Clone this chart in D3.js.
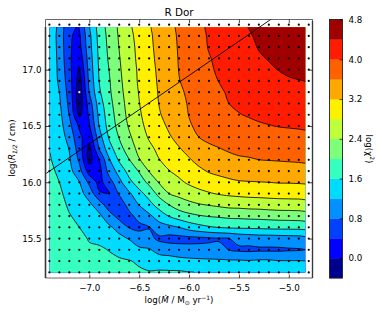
<!DOCTYPE html>
<html><head><meta charset="utf-8">
<script src="https://cdn.jsdelivr.net/npm/d3@7"></script>
<style>html,body{margin:0;padding:0;background:#fff}svg{display:block}text{font-family:"DejaVu Sans",sans-serif;fill:#000}</style>
</head><body><svg id="c" width="382" height="313"></svg>
<script>
const title = "R Dor";
const logMdot = [-7.4,-7.3,-7.2,-7.1,-7.0,-6.9,-6.8,-6.7,-6.6,-6.5,-6.4,-6.3,-6.2,-6.1,-6.0,-5.9,-5.8,-5.7,-5.6,-5.5,-5.4,-5.3,-5.2,-5.1,-5.0,-4.9,-4.8];
const logR = [17.4,17.3,17.2,17.1,17.0,16.9,16.8,16.7,16.6,16.5,16.4,16.3,16.2,16.1,16.0,15.9,15.8,15.7,15.6,15.5,15.4,15.3,15.2];
// log(chi^2), one list per logMdot value, top (17.4) to bottom (15.2)
const chi2Columns = [
[1.50,1.50,1.50,1.50,1.50,1.50,1.50,1.51,1.52,1.53,1.56,1.59,1.62,1.65,1.68,1.71,1.74,1.77,1.80,1.83,1.86,1.89,1.92],
[1.04,1.05,1.07,1.09,1.11,1.13,1.20,1.26,1.32,1.36,1.42,1.47,1.52,1.56,1.60,1.66,1.71,1.75,1.79,1.82,1.85,1.88,1.90],
[.44,.43,.44,.46,.52,.58,.64,.70,.78,.92,1.05,1.18,1.25,1.32,1.40,1.48,1.55,1.62,1.70,1.76,1.81,1.85,1.88],
[.38,.33,.27,.12,-.06,-.20,-.30,-.25,-.10,.34,.50,.60,.73,.95,1.22,1.31,1.41,1.52,1.60,1.67,1.73,1.78,1.82],
[1.14,1.10,1.06,1.00,.96,.90,.82,.58,.47,.36,.12,-.12,-.15,.20,.71,1.05,1.27,1.39,1.51,1.58,1.64,1.71,1.77],
[1.77,1.74,1.71,1.68,1.65,1.61,1.55,1.42,1.32,1.22,1.03,.82,.40,.25,.27,.44,1.02,1.27,1.38,1.54,1.64,1.70,1.75],
[2.14,2.12,2.09,2.06,2.01,1.97,1.94,1.88,1.82,1.77,1.65,1.45,1.16,.96,.63,.39,.55,.98,1.26,1.41,1.59,1.66,1.72],
[2.46,2.44,2.41,2.38,2.35,2.32,2.29,2.24,2.19,2.13,2.02,1.85,1.66,1.34,1.09,.84,.60,.65,1.07,1.30,1.49,1.65,1.70],
[2.73,2.70,2.67,2.64,2.62,2.60,2.57,2.54,2.51,2.44,2.34,2.22,1.99,1.75,1.49,1.14,.92,.70,.78,1.18,1.40,1.62,1.68],
[2.95,2.93,2.90,2.89,2.86,2.85,2.82,2.79,2.75,2.70,2.60,2.51,2.38,2.03,1.80,1.47,1.21,.93,.70,1.00,1.27,1.55,1.65],
[3.16,3.14,3.12,3.10,3.07,3.05,3.03,3.00,2.97,2.91,2.84,2.71,2.56,2.42,2.09,1.76,1.47,1.12,.78,.90,1.24,1.48,1.62],
[3.33,3.32,3.31,3.29,3.27,3.25,3.23,3.21,3.17,3.07,2.98,2.89,2.79,2.60,2.43,2.12,1.76,1.38,1.03,.72,1.06,1.40,1.65],
[3.50,3.49,3.47,3.46,3.44,3.41,3.39,3.36,3.32,3.26,3.16,3.04,2.91,2.79,2.60,2.40,2.00,1.62,1.10,.65,1.03,1.36,1.65],
[3.66,3.64,3.63,3.62,3.61,3.59,3.54,3.50,3.47,3.41,3.31,3.18,3.04,2.90,2.73,2.50,2.20,1.79,1.20,.66,.97,1.32,1.65],
[3.79,3.78,3.76,3.75,3.73,3.69,3.66,3.63,3.61,3.57,3.48,3.31,3.17,3.00,2.86,2.60,2.30,1.90,1.37,.68,.93,1.30,1.61],
[3.93,3.91,3.89,3.87,3.84,3.80,3.76,3.73,3.69,3.66,3.60,3.44,3.30,3.13,2.95,2.70,2.37,1.97,1.48,.70,.92,1.28,1.59],
[4.05,4.03,4.02,3.98,3.96,3.90,3.86,3.82,3.77,3.72,3.66,3.55,3.39,3.23,3.02,2.77,2.42,2.02,1.56,.74,.90,1.27,1.58],
[4.14,4.12,4.09,4.07,4.04,4.01,3.96,3.91,3.86,3.80,3.72,3.59,3.46,3.28,3.09,2.83,2.47,2.05,1.61,.77,.88,1.26,1.57],
[4.23,4.20,4.18,4.14,4.11,4.06,4.03,4.00,3.94,3.86,3.78,3.65,3.50,3.32,3.14,2.87,2.52,2.09,1.65,.79,.79,1.25,1.56],
[4.32,4.29,4.26,4.21,4.18,4.11,4.08,4.04,3.99,3.91,3.82,3.69,3.55,3.38,3.17,2.90,2.53,2.10,1.66,.90,.74,1.25,1.56],
[4.42,4.37,4.32,4.27,4.22,4.17,4.12,4.07,4.02,3.94,3.82,3.70,3.57,3.41,3.18,2.92,2.56,2.12,1.67,.94,.72,1.23,1.56],
[4.48,4.45,4.42,4.36,4.30,4.24,4.18,4.12,4.05,3.97,3.85,3.73,3.60,3.43,3.19,2.93,2.57,2.13,1.68,.98,.74,1.26,1.56],
[4.54,4.50,4.47,4.42,4.35,4.28,4.22,4.14,4.07,3.99,3.87,3.74,3.61,3.44,3.20,2.94,2.60,2.15,1.70,.98,.74,1.26,1.56],
[4.60,4.57,4.52,4.47,4.41,4.33,4.25,4.17,4.09,4.01,3.89,3.76,3.62,3.45,3.22,2.95,2.62,2.17,1.71,1.00,.74,1.22,1.55],
[4.65,4.62,4.58,4.52,4.45,4.37,4.28,4.20,4.11,4.02,3.91,3.77,3.63,3.46,3.22,2.96,2.62,2.18,1.71,1.02,.76,1.22,1.55],
[4.70,4.67,4.63,4.57,4.48,4.39,4.30,4.21,4.12,4.03,3.92,3.78,3.64,3.47,3.23,2.96,2.63,2.19,1.72,1.03,.77,1.22,1.54],
[4.74,4.70,4.66,4.60,4.51,4.41,4.32,4.22,4.13,4.04,3.93,3.79,3.65,3.48,3.24,2.97,2.64,2.20,1.73,1.04,.78,1.20,1.54]
];
const levels = [-0.4,0,0.4,0.8,1.2,1.6,2.0,2.4,2.8,3.2,3.6,4.0,4.4,4.8];
const bandColors = ["#00008f","#0000ff","#0040ff","#0090ff","#00dcff","#36ffc0","#7dff7a","#bcff3a","#fff000","#ffa800","#ff6000","#ff1c00","#a00000"];
const xTicks = [-7.0,-6.5,-6.0,-5.5,-5.0];
const yTicks = [15.5,16.0,16.5,17.0];
const cbTicks = [0.0,0.8,1.6,2.4,3.2,4.0,4.8];
const bestFit = {x:-7.1, y:16.8};
const lineX = [-7.45,-5.17];
const lineY = [16.068,17.453];

const box = {l:45.5,r:312.5,t:19.5,b:278};
const x = d3.scaleLinear().domain([-7,-5]).range([89.3,288.8]);
const y = d3.scaleLinear().domain([17,15.5]).range([69.7,238.6]);
const cb = d3.scaleLinear().domain([-0.4,4.8]).range([278,19.5]);
const cbBox = {l:329.5,r:342.5};
const svg = d3.select("#c");
const defs = svg.append("defs");
defs.append("clipPath").attr("id","fillClip").append("rect")
  .attr("x",49.7).attr("y",27.3).attr("width",305.2-49.7).attr("height",272.6-27.3);
defs.append("clipPath").attr("id","boxClip").append("rect")
  .attr("x",box.l).attr("y",box.t).attr("width",box.r-box.l).attr("height",box.b-box.t);

const nx = logMdot.length, ny = logR.length;
const flat = [];
for (let j=0;j<ny;j++) for (let i=0;i<nx;i++) flat.push(chi2Columns[i][j]);
const dx = logMdot[1]-logMdot[0], dy = logR[1]-logR[0];
const ringLine = d3.line()
  .x(p=>x(logMdot[0]+(p[0]-0.5)*dx))
  .y(p=>y(logR[0]+(p[1]-0.5)*dy))
  .curve(d3.curveCatmullRomClosed.alpha(0.5));
// drop vertices that nearly coincide so the smoothing stays calm
function thin(ring){
  const out=[];
  ring.slice(0,-1).forEach(p=>{
    const q=out[out.length-1];
    if(!q||Math.hypot(p[0]-q[0],p[1]-q[1])>0.22) out.push(p);
  });
  return out.length>3?out:ring.slice(0,-1);
}
const path = c => c.coordinates.map(poly=>poly.map(r=>ringLine(thin(r))).join("")).join("");
const conts = d3.contours().size([nx,ny]).thresholds(levels.slice(0,-1))(flat);
const g = svg.append("g").attr("clip-path","url(#fillClip)");
g.selectAll("path.f").data(conts).join("path").attr("class","f")
  .attr("d",path).attr("fill",(d,i)=>bandColors[i]);
g.selectAll("path.l").data(conts.slice(1)).join("path").attr("class","l")
  .attr("d",path).attr("fill","none").attr("stroke","#000").attr("stroke-width",0.8);

// grid dots
const dots = svg.append("g");
logMdot.forEach(mx=>logR.forEach(ry=>{
  const best = Math.abs(mx-bestFit.x)<1e-6 && Math.abs(ry-bestFit.y)<1e-6;
  dots.append("circle").attr("cx",x(mx)).attr("cy",y(ry)).attr("r",1.1).attr("fill",best?"#fff":"#000");
}));

// straight line
svg.append("path").attr("clip-path","url(#boxClip)")
  .attr("d",d3.line().x(d=>x(d[0])).y(d=>y(d[1]))(d3.zip(lineX,lineY)))
  .attr("fill","none").attr("stroke","#000").attr("stroke-width",0.9);

// frame
svg.append("line").attr("x1",45.5).attr("x2",45.5).attr("y1",27).attr("y2",278).attr("stroke","#888").attr("stroke-width",2);
svg.append("line").attr("x1",312.5).attr("x2",312.5).attr("y1",21).attr("y2",278).attr("stroke","#888").attr("stroke-width",1.6);
svg.append("path").attr("d",`M${box.l} ${box.b}V${box.t}H${box.r}V${box.b}Z`).attr("fill","none").attr("stroke","#000").attr("stroke-width",0.7).attr("stroke-opacity",0.85);

// axes
const fmt = d3.format(".1f");
function style(a){a.select(".domain").remove();a.selectAll("line").attr("stroke","#000").attr("stroke-width",0.7);
  a.selectAll("text").attr("font-size",8.7);}
style(svg.append("g").attr("transform",`translate(0,${box.b})`).call(d3.axisBottom(x).tickValues(xTicks).tickFormat(fmt).tickSize(-3.5).tickPadding(7)));
style(svg.append("g").attr("transform",`translate(0,${box.t})`).call(d3.axisTop(x).tickValues(xTicks).tickFormat("").tickSize(-3.5)));
style(svg.append("g").attr("transform",`translate(${box.l},0)`).call(d3.axisLeft(y).tickValues(yTicks).tickFormat(fmt).tickSize(-3.5).tickPadding(4)));
style(svg.append("g").attr("transform",`translate(${box.r},0)`).call(d3.axisRight(y).tickValues(yTicks).tickFormat("").tickSize(-3.5)));

// colorbar
svg.append("g").selectAll("rect").data(bandColors).join("rect")
  .attr("x",cbBox.l).attr("width",cbBox.r-cbBox.l)
  .attr("y",(d,i)=>cb(levels[i+1])).attr("height",(d,i)=>cb(levels[i])-cb(levels[i+1])+0.3).attr("fill",d=>d);
svg.append("rect").attr("x",cbBox.l).attr("y",box.t).attr("width",cbBox.r-cbBox.l).attr("height",box.b-box.t)
  .attr("fill","none").attr("stroke","#222").attr("stroke-width",0.9);
style(svg.append("g").attr("transform",`translate(${cbBox.r},0)`).call(d3.axisRight(cb).tickValues(cbTicks).tickFormat(fmt).tickSize(-3).tickPadding(6)));

// titles
svg.append("text").attr("x",179).attr("y",15.5).attr("text-anchor","middle").attr("font-size",10.4).text(title);
const xl = svg.append("text").attr("x",179).attr("y",303).attr("text-anchor","middle").attr("font-size",8.7);
xl.append("tspan").text("log(");
xl.append("tspan").attr("font-style","italic").text("Ṁ");
xl.append("tspan").text(" / M");
xl.append("tspan").attr("font-size",6).attr("dy",2).text("⊙");
xl.append("tspan").attr("dy",-2).text(" yr");
xl.append("tspan").attr("font-size",6).attr("dy",-3.5).text("−1");
xl.append("tspan").attr("dy",3.5).text(")");
const yl = svg.append("text").attr("transform","translate(15,148) rotate(-90)").attr("text-anchor","middle").attr("font-size",8.7);
yl.append("tspan").text("log(");
yl.append("tspan").attr("font-style","italic").text("R");
yl.append("tspan").attr("font-size",6).attr("dy",2).attr("font-style","italic").text("1/2");
yl.append("tspan").attr("dy",-2).text(" / cm)");
const cl = svg.append("text").attr("transform","translate(366,149) rotate(90)").attr("text-anchor","middle").attr("font-size",8.7);
cl.append("tspan").text("log(χ");
cl.append("tspan").attr("font-size",6).attr("dy",-3.5).text("2");
cl.append("tspan").attr("dy",3.5).text(")");
</script></body></html>
